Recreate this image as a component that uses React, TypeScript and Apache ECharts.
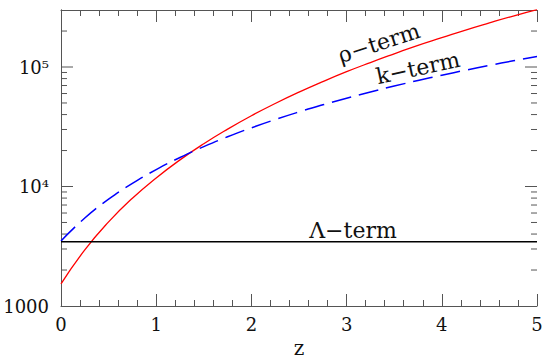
import React, { useEffect, useRef } from 'react';
import * as echarts from 'echarts';

const zValues = [0, 0.25, 0.5, 0.75, 1, 1.25, 1.5, 1.75, 2, 2.25, 2.5, 2.75, 3, 3.25, 3.5, 3.75, 4, 4.25, 4.5, 4.75, 5];
const rhoTerm = [1530, 2950, 5060, 7980, 11800, 16700, 22800, 30200, 39100, 49500, 61600, 75500, 91400, 109000, 129000, 152000, 176000, 204000, 234000, 267000, 302000];
const kTerm = [3500, 5450, 7830, 10630, 13850, 17500, 21580, 26070, 30980, 36320, 42080, 48260, 54850, 61860, 69300, 77140, 85400, 94080, 103180, 112730, 122700];
const lambdaZ = [0, 5];
const lambdaTerm = [3450, 3450];

const yLabelValues = [1000, 10000, 100000];
const yLabelTexts = ['1000', '10⁴', '10⁵'];
const yMajorTicks = [10000, 100000];
const yMinorTicks = [2000, 3000, 4000, 5000, 6000, 7000, 8000, 9000, 20000, 30000, 40000, 50000, 60000, 70000, 80000, 90000, 200000];
const curveNames = ['ρ−term', 'k−term', 'Λ−term'];
const xAxisName = 'z';

const FONT = '"DejaVu Serif", "Liberation Serif", serif';
const AXIS_COLOR = '#555';
const TEXT_COLOR = '#111';

export default function App() {
  const ref = useRef<HTMLDivElement>(null);
  useEffect(() => {
    if (!ref.current) return;
    const chart = echarts.init(ref.current, null, { renderer: 'svg' });
    const tickData: number[][] = [];
    yMajorTicks.forEach((v) => {
      tickData.push([0, v, 12]);
      tickData.push([5, v, -12]);
    });
    yMinorTicks.forEach((v) => {
      tickData.push([0, v, 6]);
      tickData.push([5, v, -6]);
    });
    const xAxisBase: any = {
      type: 'value',
      min: 0,
      max: 5,
      interval: 1,
      axisLine: { show: true, lineStyle: { color: AXIS_COLOR, width: 1 } },
      axisTick: { show: true, inside: true, length: 12, lineStyle: { color: AXIS_COLOR, width: 1 } },
      minorTick: { show: true, splitNumber: 5, length: 6, lineStyle: { color: AXIS_COLOR, width: 1 } },
      splitLine: { show: false },
    };
    const yAxisBase: any = {
      type: 'log',
      logBase: 10,
      min: 1000,
      max: 300000,
      axisLine: { show: true, lineStyle: { color: AXIS_COLOR, width: 1 } },
      axisTick: { show: false },
      splitLine: { show: false },
    };
    chart.setOption({
      animation: false,
      grid: { left: 61, right: 13, top: 10, bottom: 56 },
      xAxis: [
        {
          ...xAxisBase,
          position: 'bottom',
          axisLabel: { show: true, margin: 9, fontFamily: FONT, fontSize: 18, color: TEXT_COLOR },
        },
        { ...xAxisBase, position: 'top', axisLabel: { show: false } },
      ],
      yAxis: [
        {
          ...yAxisBase,
          position: 'left',
          axisLabel: { show: true, margin: 12, fontSize: 12, color: 'rgba(0,0,0,0)' },
        },
        { ...yAxisBase, position: 'right', axisLabel: { show: false } },
      ],
      series: [
        {
          type: 'line',
          data: zValues.map((z, i) => [z, rhoTerm[i]]),
          showSymbol: false,
          smooth: true,
          lineStyle: { color: '#ff0000', width: 1.3 },
        },
        {
          type: 'line',
          data: zValues.map((z, i) => [z, kTerm[i]]),
          showSymbol: false,
          smooth: true,
          lineStyle: { color: '#0000ff', width: 1.5, type: [20, 8] },
        },
        {
          type: 'line',
          data: lambdaZ.map((z, i) => [z, lambdaTerm[i]]),
          showSymbol: false,
          lineStyle: { color: '#000000', width: 1.3 },
        },
        {
          type: 'custom',
          encode: { x: 0, y: 1 },
          data: tickData,
          renderItem: (params: any, api: any) => {
            const p = api.coord([api.value(0), api.value(1)]);
            const len = api.value(2);
            return {
              type: 'line',
              shape: { x1: p[0], y1: p[1], x2: p[0] + len, y2: p[1] },
              style: { stroke: AXIS_COLOR, lineWidth: 1 },
            };
          },
        },
        {
          type: 'custom',
          encode: { x: 0, y: 1 },
          data: yLabelValues.map((v) => [0, v]),
          renderItem: (params: any, api: any) => {
            const p = api.coord([api.value(0), api.value(1)]);
            return {
              type: 'text',
              x: p[0] - 12,
              y: p[1],
              style: {
                text: yLabelTexts[params.dataIndex],
                font: `18px ${FONT}`,
                fill: TEXT_COLOR,
                align: 'right',
                verticalAlign: 'middle',
              },
            };
          },
        },
      ],
      graphic: [
        {
          type: 'text',
          x: 299,
          y: 348,
          style: { text: xAxisName, font: `20px ${FONT}`, fill: TEXT_COLOR, align: 'center', verticalAlign: 'middle' },
        },
        {
          type: 'text',
          x: 379,
          y: 43,
          rotation: (18 * Math.PI) / 180,
          style: { text: curveNames[0], font: `22px ${FONT}`, fill: TEXT_COLOR, align: 'center', verticalAlign: 'middle' },
        },
        {
          type: 'text',
          x: 418,
          y: 68,
          rotation: (12 * Math.PI) / 180,
          style: { text: curveNames[1], font: `22px ${FONT}`, fill: TEXT_COLOR, align: 'center', verticalAlign: 'middle' },
        },
        {
          type: 'text',
          x: 353,
          y: 230,
          style: { text: curveNames[2], font: `22px ${FONT}`, fill: TEXT_COLOR, align: 'center', verticalAlign: 'middle' },
        },
      ],
    });
    return () => chart.dispose();
  }, []);
  return <div ref={ref} style={{ position: 'absolute', left: 0, top: 0, width: 550, height: 362 }} />;
}
